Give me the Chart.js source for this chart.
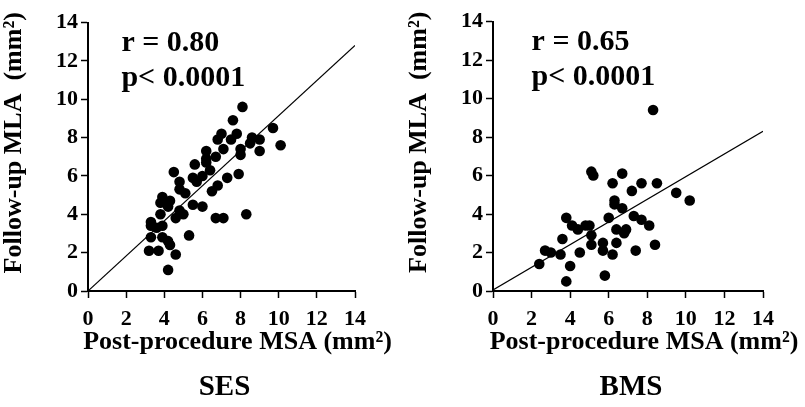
<!DOCTYPE html>
<html>
<head>
<meta charset="utf-8">
<script src="https://cdn.jsdelivr.net/npm/chart.js@4/dist/chart.umd.min.js"></script>
<style>
  body { margin: 0; background: #fff; }
  .panel { position: absolute; top: 0; height: 407px; }
  #ses-panel { left: 0; width: 400px; }
  #bms-panel { left: 400px; width: 405px; }
</style>
</head>
<body>
<div class="panel" id="ses-panel"><canvas id="ses" width="400" height="407"></canvas></div>
<div class="panel" id="bms-panel"><canvas id="bms" width="405" height="407"></canvas></div>
<script>
// axis ticks (both axes, both panels)
const axisTicks = [0, 2, 4, 6, 8, 10, 12, 14];

// SES panel
const sesX = [8.1, 7.6, 9.7, 10.1, 7.0, 6.8, 7.8, 7.5, 8.6, 9.0, 8.5, 9.0, 7.1, 8.0, 8.0, 6.2, 6.2, 6.7, 5.6, 4.5,
              6.2, 6.4, 6.0, 5.5, 4.8, 5.7, 7.3, 7.9, 4.8, 5.1, 6.8, 6.5, 3.9, 4.3, 3.8, 4.2, 5.5, 6.0, 4.8, 5.0,
              4.6, 3.8, 3.3, 3.3, 3.9, 3.6, 6.7, 7.1, 8.3, 3.3, 5.3, 3.9, 4.2, 4.3, 3.2, 3.7, 4.6, 4.2];
const sesY = [9.6, 8.9, 8.5, 7.6, 8.2, 7.9, 8.2, 7.9, 8.0, 7.9, 7.7, 7.3, 7.4, 7.4, 7.1, 7.3, 6.9, 7.0, 6.6, 6.2,
              6.7, 6.3, 6.0, 5.9, 5.7, 5.7, 5.9, 6.1, 5.3, 5.1, 5.5, 5.2, 4.9, 4.7, 4.6, 4.4, 4.5, 4.4, 4.2, 4.0,
              3.8, 4.0, 3.6, 3.4, 3.4, 3.3, 3.8, 3.8, 4.0, 2.8, 2.9, 2.8, 2.6, 2.4, 2.1, 2.1, 1.9, 1.1];
const sesFitX = [0, 14];
const sesFitY = [0, 12.8];

// BMS panel
const bmsX = [8.3, 5.1, 5.2, 6.7, 6.2, 7.7, 8.5, 7.2, 9.5, 10.2, 6.3, 6.3, 6.7, 7.3, 7.7, 8.1, 6.0, 3.8, 4.1, 4.4,
              5.0, 5.1, 6.4, 6.9, 6.8, 3.6, 5.1, 5.7, 6.4, 8.4, 2.7, 3.0, 3.5, 4.5, 5.7, 6.2, 7.4, 2.4, 4.0, 5.8,
              3.8, 4.8];
const bmsY = [9.4, 6.2, 6.0, 6.1, 5.6, 5.6, 5.6, 5.2, 5.1, 4.7, 4.7, 4.5, 4.3, 3.9, 3.7, 3.4, 3.8, 3.8, 3.4, 3.2,
              3.4, 2.9, 3.2, 3.2, 3.0, 2.7, 2.4, 2.5, 2.5, 2.4, 2.1, 2.0, 1.9, 2.0, 2.1, 1.9, 2.1, 1.4, 1.3, 0.8,
              0.5, 3.4];
const bmsFitX = [0, 14];
const bmsFitY = [0.05, 8.3];

const xTitle = 'Post-procedure MSA (mm²)';
const yTitle = 'Follow-up MLA  (mm²)';

const serif = '"Liberation Serif", "Times New Roman", serif';

function toPoints(xs, ys) {
    return xs.map((x, i) => ({x: x, y: ys[i]}));
}

// draws the r / p text, axis titles and the group name
const textPlugin = {
    id: 'panelText',
    afterDraw(chart, args, opts) {
        const {ctx, chartArea, scales} = chart;
        ctx.save();
        ctx.fillStyle = '#000';

        ctx.font = `bold 30px ${serif}`;
        ctx.textAlign = 'left';
        ctx.textBaseline = 'middle';
        const tx = scales.x.getPixelForValue(opts.textAt);
        ctx.fillText(opts.r, tx, scales.y.getPixelForValue(12.9));
        ctx.fillText(opts.p, tx, scales.y.getPixelForValue(11.1));

        // x title
        const midX = (chartArea.left + chartArea.right) / 2;
        ctx.font = `bold 26px ${serif}`;
        ctx.textAlign = 'center';
        ctx.fillText(xTitle, midX + 16, chartArea.bottom + 51);

        // y title
        ctx.save();
        ctx.translate(chartArea.left - 74, (chartArea.top + chartArea.bottom) / 2 - 14);
        ctx.rotate(-Math.PI / 2);
        ctx.fillText(yTitle, 0, 0);
        ctx.restore();

        // group name
        ctx.font = `bold 29px ${serif}`;
        ctx.fillText(opts.group, midX + 3, chartArea.bottom + 97);
        ctx.restore();
    }
};

function makeChart(id, xs, ys, fitX, fitY, axisWidth, padRight, padTop, text) {
    const tickFont = {family: serif, size: 22, weight: 'bold'};
    const gridOpts = {
        display: true,
        drawOnChartArea: false,
        drawTicks: true,
        tickLength: 7,
        tickWidth: 1.5,
        color: '#000'
    };
    return new Chart(document.getElementById(id), {
        type: 'scatter',
        data: {
            datasets: [
                {
                    data: toPoints(xs, ys),
                    backgroundColor: '#000',
                    borderWidth: 0,
                    pointRadius: 5.3,
                    pointHoverRadius: 5.3
                },
                {
                    type: 'line',
                    data: toPoints(fitX, fitY),
                    borderColor: '#000',
                    borderWidth: 1.2,
                    pointRadius: 0,
                    fill: false
                }
            ]
        },
        options: {
            responsive: false,
            animation: false,
            events: [],
            layout: {padding: {left: 0, right: padRight, top: padTop, bottom: 0}},
            plugins: {
                legend: {display: false},
                tooltip: {enabled: false},
                panelText: text
            },
            scales: {
                x: {
                    type: 'linear',
                    min: 0,
                    max: 14,
                    afterBuildTicks: (scale) => { scale.ticks = axisTicks.map(v => ({value: v})); },
                    ticks: {color: '#000', font: tickFont, padding: 8, maxRotation: 0},
                    grid: gridOpts,
                    border: {display: true, color: '#000', width: 2},
                    afterFit: (scale) => { scale.height = 116; }
                },
                y: {
                    type: 'linear',
                    min: 0,
                    max: 14,
                    afterBuildTicks: (scale) => { scale.ticks = axisTicks.map(v => ({value: v})); },
                    ticks: {color: '#000', font: tickFont, padding: 3},
                    grid: gridOpts,
                    border: {display: true, color: '#000', width: 2},
                    afterFit: (scale) => { scale.width = axisWidth; }
                }
            }
        },
        plugins: [textPlugin]
    });
}

makeChart('ses', sesX, sesY, sesFitX, sesFitY, 88, 45, 22.5,
    {r: 'r = 0.80', p: 'p< 0.0001', textAt: 1.75, group: 'SES'});
makeChart('bms', bmsX, bmsY, bmsFitX, bmsFitY, 93, 42, 21.5,
    {r: 'r = 0.65', p: 'p< 0.0001', textAt: 2.0, group: 'BMS'});
</script>
</body>
</html>
